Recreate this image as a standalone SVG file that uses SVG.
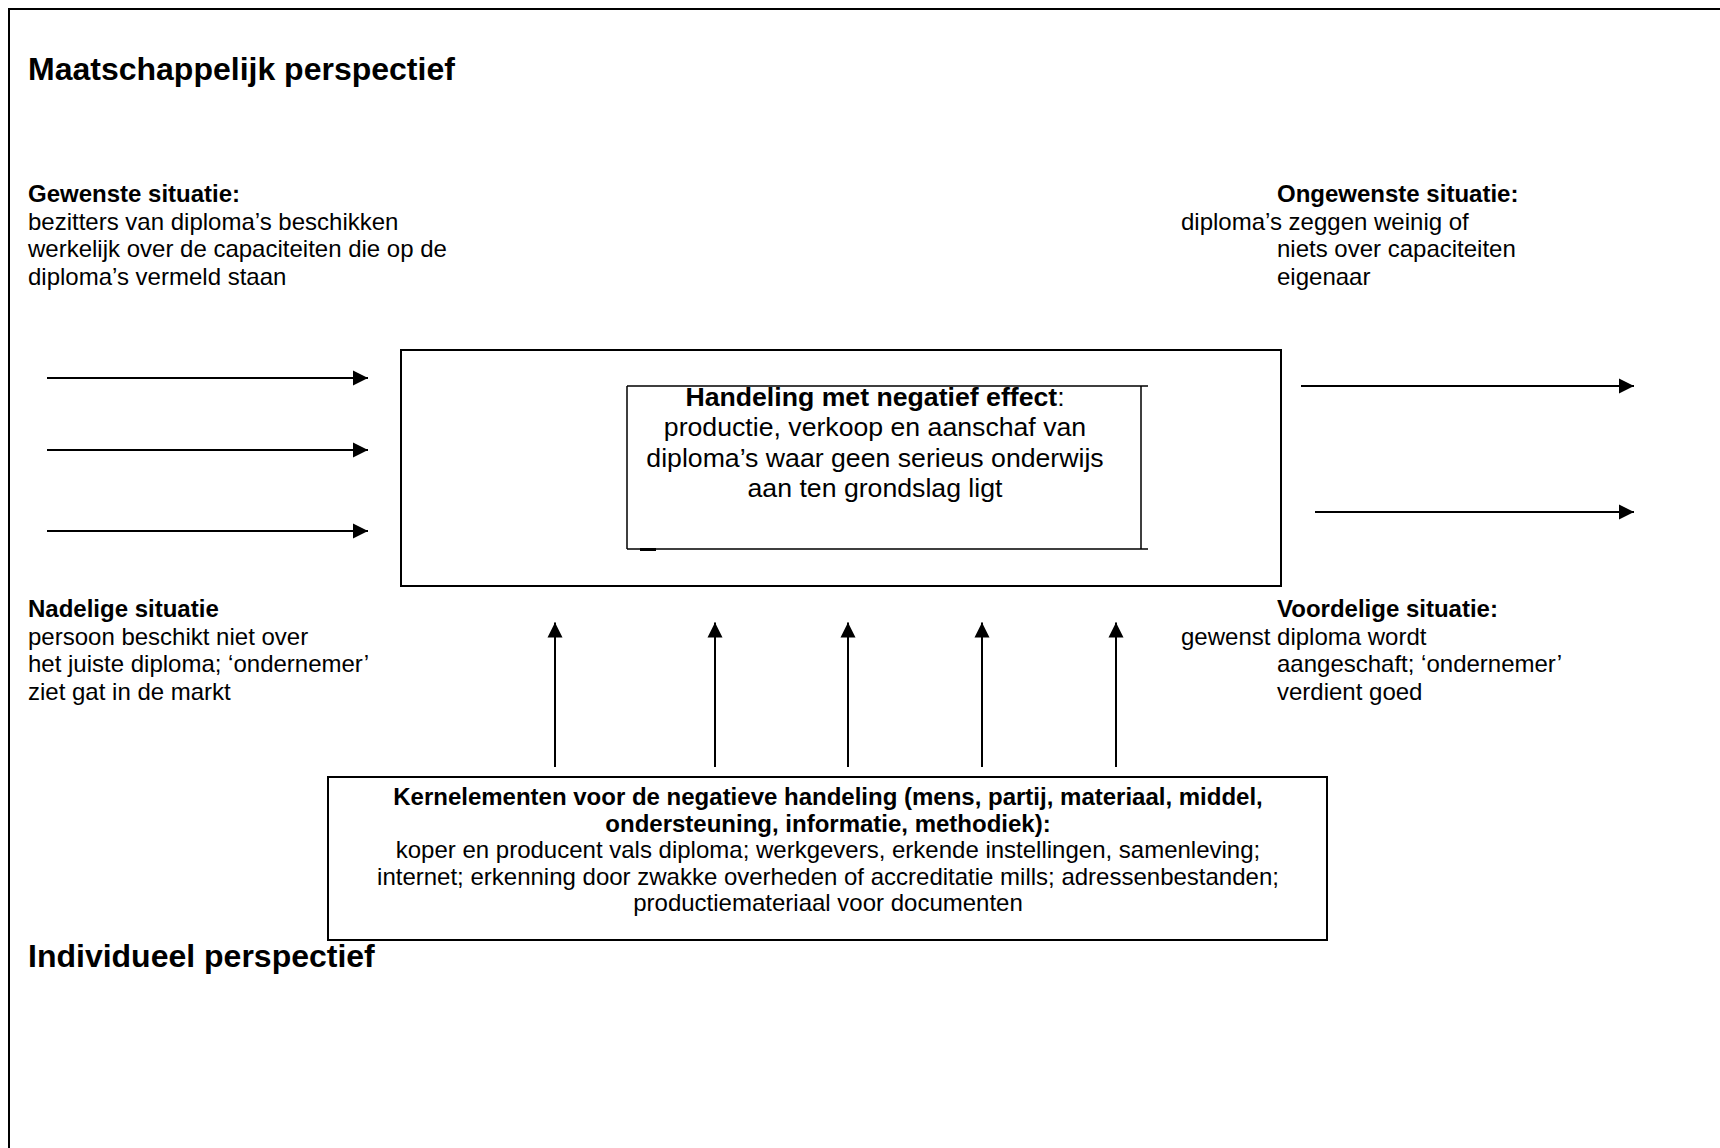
<svg xmlns="http://www.w3.org/2000/svg" width="1720" height="1148" viewBox="0 0 1720 1148">
  <style>
    text { font-family: "Liberation Sans", Arial, sans-serif; fill: #000; }
    .t { font-size: 24px; }
    .b { font-weight: bold; }
    .h { font-size: 32px; font-weight: bold; }
    .c { font-size: 26.67px; text-anchor: middle; }
    .k { font-size: 24px; text-anchor: middle; }
    .box { fill: #fff; stroke: #000; stroke-width: 2; }
    .thin { stroke: #000; stroke-width: 1.5; fill: none; }
    .arrow { stroke: #000; stroke-width: 2; fill: none; marker-end: url(#ah); }
  </style>
  <defs>
    <marker id="ah" markerUnits="userSpaceOnUse" markerWidth="16" markerHeight="16" refX="15" refY="8" orient="auto">
      <path d="M0,0.5 L15,8 L0,15.5 Z" fill="#000"/>
    </marker>
  </defs>
  <rect width="1720" height="1148" fill="#fff"/>

  <g id="frame">
    <path d="M9,1160 V9 H1730" fill="none" stroke="#000" stroke-width="2"/>
  </g>

  <g id="title-maatschappelijk">
    <text class="h" x="28" y="80">Maatschappelijk perspectief</text>
  </g>

  <g id="gewenste-situatie">
    <text class="t b" x="28" y="202">Gewenste situatie:</text>
    <text class="t" x="28" y="229.5">bezitters van diploma’s beschikken</text>
    <text class="t" x="28" y="257">werkelijk over de capaciteiten die op de</text>
    <text class="t" x="28" y="284.5">diploma’s vermeld staan</text>
  </g>

  <g id="ongewenste-situatie">
    <text class="t b" x="1277" y="202">Ongewenste situatie:</text>
    <text class="t" x="1181" y="229.5">diploma’s zeggen weinig of</text>
    <text class="t" x="1277" y="257">niets over capaciteiten</text>
    <text class="t" x="1277" y="284.5">eigenaar</text>
  </g>

  <g id="handeling">
    <rect class="box" x="401" y="350" width="880" height="236"/>
    <path class="thin" d="M627,386 H1148 M627,549 H1148 M627,386 V549 M1141,386 V549"/>
    <path d="M640,549.5 H656" stroke="#000" stroke-width="3"/>
    <text class="c" x="875" y="405.5"><tspan font-weight="bold">Handeling met negatief effect</tspan>:</text>
    <text class="c" x="875" y="436">productie, verkoop en aanschaf van</text>
    <text class="c" x="875" y="466.7">diploma’s waar geen serieus onderwijs</text>
    <text class="c" x="875" y="497.3">aan ten grondslag ligt</text>
  </g>

  <g id="nadelige-situatie">
    <text class="t b" x="28" y="617">Nadelige situatie</text>
    <text class="t" x="28" y="644.5">persoon beschikt niet over</text>
    <text class="t" x="28" y="672">het juiste diploma; ‘ondernemer’</text>
    <text class="t" x="28" y="699.5">ziet gat in de markt</text>
  </g>

  <g id="voordelige-situatie">
    <text class="t b" x="1277" y="617">Voordelige situatie:</text>
    <text class="t" x="1181" y="644.5">gewenst diploma wordt</text>
    <text class="t" x="1277" y="672">aangeschaft; ‘ondernemer’</text>
    <text class="t" x="1277" y="699.5">verdient goed</text>
  </g>

  <g id="kernelementen">
    <rect class="box" x="328" y="777" width="999" height="163"/>
    <text class="k b" x="828" y="805">Kernelementen voor de negatieve handeling (mens, partij, materiaal, middel,</text>
    <text class="k b" x="828" y="831.5">ondersteuning, informatie, methodiek):</text>
    <text class="k" x="828" y="858">koper en producent vals diploma; werkgevers, erkende instellingen, samenleving;</text>
    <text class="k" x="828" y="884.5">internet; erkenning door zwakke overheden of accreditatie mills; adressenbestanden;</text>
    <text class="k" x="828" y="911">productiemateriaal voor documenten</text>
  </g>

  <g id="title-individueel">
    <text class="h" x="28" y="967">Individueel perspectief</text>
  </g>

  <g id="connectors">
    <line class="arrow" x1="47" y1="378" x2="368" y2="378"/>
    <line class="arrow" x1="47" y1="450" x2="368" y2="450"/>
    <line class="arrow" x1="47" y1="531" x2="368" y2="531"/>
    <line class="arrow" x1="1301" y1="386" x2="1634" y2="386"/>
    <line class="arrow" x1="1315" y1="512" x2="1634" y2="512"/>
    <line class="arrow" x1="555" y1="767" x2="555" y2="622.5"/>
    <line class="arrow" x1="715" y1="767" x2="715" y2="622.5"/>
    <line class="arrow" x1="848" y1="767" x2="848" y2="622.5"/>
    <line class="arrow" x1="982" y1="767" x2="982" y2="622.5"/>
    <line class="arrow" x1="1116" y1="767" x2="1116" y2="622.5"/>
  </g>
</svg>
